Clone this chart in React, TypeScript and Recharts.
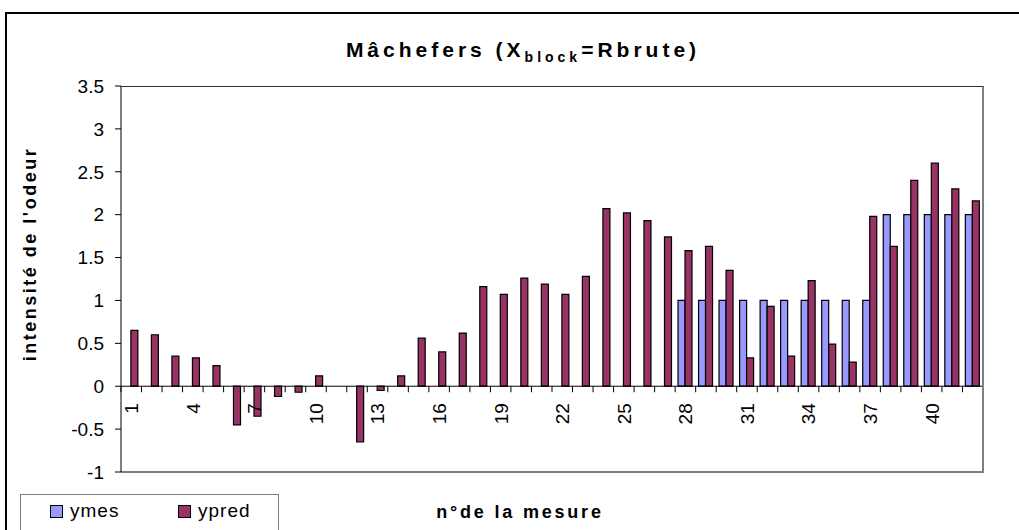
import { BarChart, Bar, XAxis, YAxis, ReferenceLine } from "recharts";

document.body.style.margin = "0";

const MESURES = [
  1, 2, 3, 4, 5, 6, 7, 8, 9, 10, 11, 12, 13, 14, 15, 16, 17, 18, 19, 20, 21,
  22, 23, 24, 25, 26, 27, 28, 29, 30, 31, 32, 33, 34, 35, 36, 37, 38, 39, 40, 41, 42,
];

const YMES = [
  0, 0, 0, 0, 0, 0, 0, 0, 0, 0, 0, 0, 0, 0, 0, 0, 0, 0, 0, 0, 0,
  0, 0, 0, 0, 0, 0, 1, 1, 1, 1, 1, 1, 1, 1, 1, 1, 2, 2, 2, 2, 2,
];

const YPRED = [
  0.65, 0.6, 0.35, 0.33, 0.24, -0.45, -0.35, -0.12, -0.07, 0.12, 0, -0.65, -0.05, 0.12,
  0.56, 0.4, 0.62, 1.16, 1.07, 1.26, 1.19, 1.07, 1.28, 2.07, 2.02, 1.93, 1.74, 1.58,
  1.63, 1.35, 0.33, 0.93, 0.35, 1.23, 0.49, 0.28, 1.98, 1.63, 2.4, 2.6, 2.3, 2.16,
];

const TICKS_Y = [-1, -0.5, 0, 0.5, 1, 1.5, 2, 2.5, 3, 3.5];

const SERIES = [
  { cle: "ymes", couleur: "#9999FF" },
  { cle: "ypred", couleur: "#993366" },
];

const donnees = MESURES.map((m, i) => ({ mesure: m, ymes: YMES[i], ypred: YPRED[i] }));

// géométrie du graphique
const W = 1019;
const H = 530;
const PLOT_LEFT = 121;
const PLOT_TOP = 86;
const PLOT_RIGHT = 983;
const PLOT_BOTTOM = 472;
const Y_MIN = -1;
const Y_MAX = 3.5;
const ZERO_Y = PLOT_TOP + ((Y_MAX - 0) / (Y_MAX - Y_MIN)) * (PLOT_BOTTOM - PLOT_TOP);
const BANDE = (PLOT_RIGHT - PLOT_LEFT) / MESURES.length;

const POLICE = '"Liberation Sans", Arial, sans-serif';

function TickX(props: any) {
  const { x, index, payload } = props;
  const gauche = x - BANDE / 2;
  const dernier = index === MESURES.length - 1;
  return (
    <g>
      <line x1={gauche} x2={gauche} y1={ZERO_Y} y2={ZERO_Y + 6} stroke="#000" />
      {dernier && (
        <line x1={x + BANDE / 2} x2={x + BANDE / 2} y1={ZERO_Y} y2={ZERO_Y + 6} stroke="#000" />
      )}
      {index % 3 === 0 && (
        <text
          x={x}
          y={ZERO_Y + 17}
          dy="0.36em"
          textAnchor="end"
          transform={`rotate(-90, ${x}, ${ZERO_Y + 17})`}
          fontSize={19}
          fontFamily={POLICE}
          fill="#000"
        >
          {payload.value}
        </text>
      )}
    </g>
  );
}

export default function App() {
  return (
    <div
      style={{
        position: "relative",
        width: W,
        height: H,
        overflow: "hidden",
        background: "#fff",
        fontFamily: POLICE,
      }}
    >
      <BarChart
        width={W}
        height={H}
        data={donnees}
        margin={{ top: PLOT_TOP, right: W - PLOT_RIGHT, bottom: 0, left: 61 }}
        barCategoryGap="14%"
        barGap={0}
      >
        <XAxis
          dataKey="mesure"
          height={H - PLOT_BOTTOM}
          interval={0}
          tickLine={false}
          axisLine={{ stroke: "#000" }}
          tick={<TickX />}
        />
        <YAxis
          type="number"
          domain={[Y_MIN, Y_MAX]}
          ticks={TICKS_Y}
          interval={0}
          width={60}
          tickSize={6}
          tickMargin={11}
          axisLine={{ stroke: "#000" }}
          tickLine={{ stroke: "#000" }}
          tick={{ fontSize: 19, fill: "#000", fontFamily: POLICE }}
          allowDataOverflow
        />
        {SERIES.map((s) => (
          <Bar
            key={s.cle}
            dataKey={s.cle}
            fill={s.couleur}
            stroke="#000"
            strokeWidth={1.2}
            isAnimationActive={false}
          />
        ))}
        <ReferenceLine y={0} stroke="#000" />
      </BarChart>

      {/* bordure du graphique */}
      <div
        style={{
          position: "absolute",
          left: 5,
          top: 12,
          width: 1200,
          height: 800,
          borderLeft: "2px solid #000",
          borderTop: "2px solid #000",
        }}
      />
      {/* cadre de la zone de tracé */}
      <div
        style={{
          position: "absolute",
          left: PLOT_LEFT,
          top: PLOT_TOP,
          width: PLOT_RIGHT - PLOT_LEFT - 1,
          height: PLOT_BOTTOM - PLOT_TOP,
          borderTop: "1px solid #333",
          borderRight: "2px solid #808080",
        }}
      />

      <div
        style={{
          position: "absolute",
          left: 0,
          width: 1046,
          top: 38,
          textAlign: "center",
          fontSize: 21,
          fontWeight: "bold",
          letterSpacing: 4,
          whiteSpace: "nowrap",
        }}
      >
        Mâchefers (X<sub style={{ fontSize: 14 }}>block</sub>=Rbrute)
      </div>

      <div
        style={{
          position: "absolute",
          left: 30,
          top: 254,
          transform: "translate(-50%, -50%) rotate(-90deg)",
          fontSize: 18,
          fontWeight: "bold",
          letterSpacing: 2.5,
          whiteSpace: "nowrap",
        }}
      >
        intensité de l'odeur
      </div>

      <div
        style={{
          position: "absolute",
          left: 520,
          top: 512,
          transform: "translate(-50%, -50%)",
          fontSize: 18,
          fontWeight: "bold",
          letterSpacing: 2.8,
          whiteSpace: "nowrap",
        }}
      >
        n°de la mesure
      </div>

      {/* légende */}
      <div
        style={{
          position: "absolute",
          left: 20,
          top: 494,
          width: 257,
          height: 60,
          border: "1px solid #808080",
        }}
      >
        {SERIES.map((s, i) => (
          <div
            key={s.cle}
            style={{
              position: "absolute",
              left: 29 + i * 128,
              top: 5,
              display: "flex",
              alignItems: "center",
              fontSize: 19,
              letterSpacing: 1,
            }}
          >
            <span
              style={{
                display: "inline-block",
                width: 11,
                height: 11,
                background: s.couleur,
                border: "1px solid #000",
                marginRight: 7,
              }}
            />
            {s.cle}
          </div>
        ))}
      </div>
    </div>
  );
}
